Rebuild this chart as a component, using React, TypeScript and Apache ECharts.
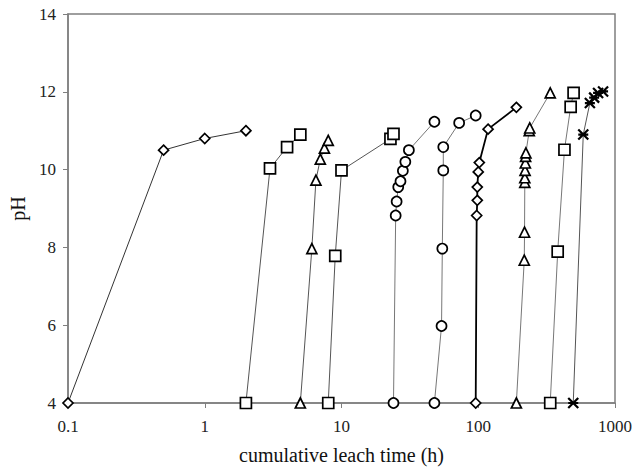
import React, { useEffect, useRef } from "react";
import * as echarts from "echarts";

// Each run: cumulative leach time (h) and pH
const s1x = [0.1, 0.5, 1, 2];
const s1y = [4, 10.5, 10.8, 11];
const s2x = [2, 3, 4, 5];
const s2y = [4, 10.03, 10.58, 10.9];
const s3x = [5, 6.07, 6.5, 7, 7.5, 8];
const s3y = [4, 7.97, 9.73, 10.27, 10.55, 10.75];
const s4x = [8, 9, 10, 22.8, 24];
const s4y = [4, 7.78, 9.98, 10.79, 10.92];
const s5x = [24, 24.9, 25.3, 26, 27, 28.1, 29.3, 31.1, 47.8];
const s5y = [4, 8.82, 9.18, 9.55, 9.7, 9.97, 10.2, 10.5, 11.23];
const s6x = [47.8, 53.9, 54.6, 55.5, 55.5, 72.5, 95.8];
const s6y = [4, 5.98, 7.97, 9.98, 10.58, 11.2, 11.39];
const s7x = [95.8, 97.4, 98.4, 98.4, 100, 101.8, 118, 190];
const s7y = [4, 8.82, 9.21, 9.55, 9.94, 10.18, 11.04, 11.6];
const s8x = [190, 217, 218, 219, 219, 220, 221, 222, 223, 236, 238, 336];
const s8y = [4, 7.67, 8.39, 9.67, 9.79, 9.98, 10.17, 10.34, 10.43, 11.0, 11.07, 11.97];
const s9x = [336, 381, 427, 474, 498];
const s9y = [4, 7.89, 10.51, 11.61, 11.97];
const s10x = [495, 586, 655, 704, 752, 818];
const s10y = [4, 10.9, 11.71, 11.85, 11.97, 12.01];

const xTicks = [0.1, 1, 10, 100, 1000];
const yTicks = [4, 6, 8, 10, 12, 14];

const FONT = "'Liberation Serif', 'Times New Roman', serif";
const STAR = "path://M0,0L10,10M10,0L0,10M0,5L10,5";

function zip(xs: number[], ys: number[]) {
  return xs.map((x, i) => [x, ys[i]]);
}

function mk(xs: number[], ys: number[], symbol: string, size: number, lineColor = "#555", lineWidth = 1) {
  return {
    type: "line",
    data: zip(xs, ys),
    symbol,
    symbolSize: size,
    showAllSymbol: true,
    lineStyle: { color: lineColor, width: lineWidth },
    itemStyle: {
      color: symbol === STAR ? "#000" : "#fff",
      borderColor: "#000",
      borderWidth: symbol === STAR ? 2.2 : 1.7,
    },
    emphasis: { disabled: true },
    z: 3,
  };
}

export default function App() {
  const ref = useRef<HTMLDivElement>(null);
  useEffect(() => {
    if (!ref.current) return;
    const chart = echarts.init(ref.current, undefined, { renderer: "svg" });
    chart.setOption({
      animation: false,
      backgroundColor: "#fff",
      grid: {
        left: 66,
        right: 18,
        top: 14,
        bottom: 66,
        show: true,
        borderColor: "#7f7f7f",
        borderWidth: 1.5,
      },
      xAxis: {
        type: "log",
        logBase: 10,
        min: xTicks[0],
        max: xTicks[xTicks.length - 1],
        name: "cumulative leach time (h)",
        nameLocation: "middle",
        nameGap: 42,
        nameTextStyle: { fontFamily: FONT, fontSize: 20, color: "#111" },
        axisLine: { show: true, lineStyle: { color: "#7f7f7f", width: 1.5 } },
        axisTick: { show: true, inside: false, length: 5, lineStyle: { color: "#7f7f7f" } },
        minorTick: { show: false },
        splitLine: { show: false },
        axisLabel: {
          fontFamily: FONT,
          fontSize: 17,
          color: "#222",
          margin: 15,
          formatter: (v: number) => String(+Number(v).toPrecision(6)),
        },
      },
      yAxis: {
        type: "value",
        min: yTicks[0],
        max: yTicks[yTicks.length - 1],
        interval: 2,
        name: "pH",
        nameLocation: "middle",
        nameGap: 40,
        nameTextStyle: { fontFamily: FONT, fontSize: 20, color: "#111" },
        axisLine: { show: true, lineStyle: { color: "#7f7f7f", width: 1.5 } },
        axisTick: { show: true, inside: false, length: 5, lineStyle: { color: "#7f7f7f" } },
        splitLine: { show: false },
        axisLabel: { fontFamily: FONT, fontSize: 17, color: "#222", margin: 12 },
      },
      series: [
        mk(s1x, s1y, "diamond", 10, "#333"),
        mk(s2x, s2y, "rect", 11),
        mk(s3x, s3y, "triangle", 10),
        mk(s4x, s4y, "rect", 11),
        mk(s5x, s5y, "circle", 10, "#777"),
        mk(s6x, s6y, "circle", 10, "#777"),
        mk(s7x, s7y, "diamond", 10, "#000", 1.8),
        mk(s8x, s8y, "triangle", 10, "#777"),
        mk(s9x, s9y, "rect", 11, "#777"),
        mk(s10x, s10y, STAR, 10, "#555"),
      ],
    });
    return () => chart.dispose();
  }, []);
  return (
    <div
      ref={ref}
      style={{ position: "fixed", left: 0, top: 0, width: 635, height: 470, background: "#fff" }}
    />
  );
}
